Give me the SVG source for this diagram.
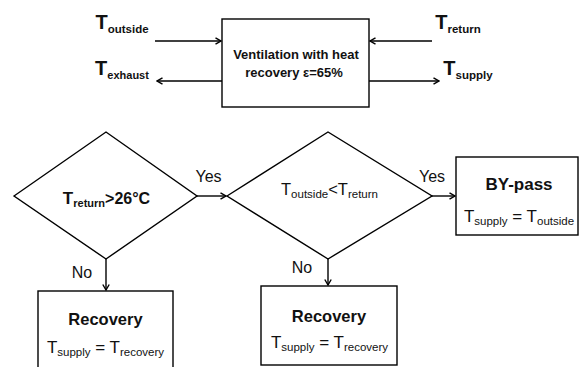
<svg xmlns="http://www.w3.org/2000/svg" width="579" height="367" viewBox="0 0 579 367">
<style>
text{font-family:"Liberation Sans",Arial,sans-serif;fill:#111;}
.b{font-weight:bold;}
.shape{fill:#fff;stroke:#000;stroke-width:1.4;}
.conn{fill:none;stroke:#000;stroke-width:1.4;marker-end:url(#arr);}
</style>
<defs>
<marker id="arr" viewBox="0 0 8 8" markerWidth="8" markerHeight="8" refX="7" refY="4" orient="auto" markerUnits="userSpaceOnUse">
<path d="M1.5,0.8 L7,4 L1.5,7.2" fill="none" stroke="#000" stroke-width="1.4"/>
</marker>
</defs>
<rect width="579" height="367" fill="#fff"/>

<g id="connectors">
<line class="conn" x1="155" y1="41" x2="221" y2="41"/>
<line class="conn" x1="222" y1="81" x2="157" y2="81"/>
<line class="conn" x1="432" y1="41" x2="370" y2="41"/>
<line class="conn" x1="369" y1="81" x2="439" y2="81"/>
<line class="conn" x1="197" y1="196" x2="226" y2="196"/>
<line class="conn" x1="432" y1="196" x2="455" y2="196"/>
<line class="conn" x1="106" y1="259" x2="106" y2="290"/>
<line class="conn" x1="328" y1="259" x2="328" y2="285"/>
</g>

<g id="label-outside">
<text class="b" x="122" y="29" text-anchor="middle"><tspan font-size="20">T</tspan><tspan font-size="11.5" dy="4">outside</tspan></text>
</g>
<g id="label-exhaust">
<text class="b" x="122" y="75" text-anchor="middle"><tspan font-size="20">T</tspan><tspan font-size="11" dy="4">exhaust</tspan></text>
</g>
<g id="label-return">
<text class="b" x="458" y="29" text-anchor="middle"><tspan font-size="20">T</tspan><tspan font-size="11.5" dy="4">return</tspan></text>
</g>
<g id="label-supply">
<text class="b" x="468" y="75" text-anchor="middle"><tspan font-size="20">T</tspan><tspan font-size="11.5" dy="4">supply</tspan></text>
</g>

<g id="ventilation">
<rect class="shape" x="222" y="19" width="147" height="88"/>
<text class="b" font-size="13" x="296" y="59" text-anchor="middle">Ventilation with heat</text>
<text class="b" font-size="13" x="294" y="77" text-anchor="middle">recovery ε=65%</text>
</g>

<g id="decision1">
<polygon class="shape" points="14,196 106,132 197,196 106,259"/>
<text class="b" x="106.5" y="204" text-anchor="middle"><tspan font-size="17">T</tspan><tspan font-size="11" dy="3">return</tspan><tspan font-size="16" dy="-3">&gt;26°C</tspan></text>
</g>

<g id="decision2">
<polygon class="shape" points="227,196 328,132 432,196 328,259"/>
<text x="329.5" y="195" text-anchor="middle"><tspan font-size="16.5">T</tspan><tspan font-size="11.5" dy="2.5">outside</tspan><tspan font-size="16.5" dy="-2.5">&lt;T</tspan><tspan font-size="11.5" dy="2.5">return</tspan></text>
</g>

<g id="bypass">
<rect class="shape" x="456" y="157" width="122" height="78"/>
<text class="b" font-size="17" x="519" y="190" text-anchor="middle">BY-pass</text>
<text x="519" y="222" text-anchor="middle"><tspan font-size="17">T</tspan><tspan font-size="11.5" dy="3">supply</tspan><tspan font-size="17" dy="-3"> = T</tspan><tspan font-size="11.5" dy="3">outside</tspan></text>
</g>

<g id="recovery1">
<rect class="shape" x="38" y="291" width="135" height="90"/>
<text class="b" font-size="16.5" x="105.5" y="325" text-anchor="middle">Recovery</text>
<text x="105.5" y="353" text-anchor="middle"><tspan font-size="17">T</tspan><tspan font-size="11.5" dy="3">supply</tspan><tspan font-size="17" dy="-3"> = T</tspan><tspan font-size="11.5" dy="3">recovery</tspan></text>
</g>

<g id="recovery2">
<rect class="shape" x="261" y="286" width="136" height="79"/>
<text class="b" font-size="16.5" x="329" y="322" text-anchor="middle">Recovery</text>
<text x="329.5" y="348" text-anchor="middle"><tspan font-size="17">T</tspan><tspan font-size="11.5" dy="3">supply</tspan><tspan font-size="17" dy="-3"> = T</tspan><tspan font-size="11.5" dy="3">recovery</tspan></text>
</g>

<g id="edge-labels">
<text font-size="16" x="208.5" y="182" text-anchor="middle">Yes</text>
<text font-size="16" x="432" y="182" text-anchor="middle">Yes</text>
<text font-size="16" x="82" y="278" text-anchor="middle">No</text>
<text font-size="16" x="302" y="273" text-anchor="middle">No</text>
</g>
</svg>
